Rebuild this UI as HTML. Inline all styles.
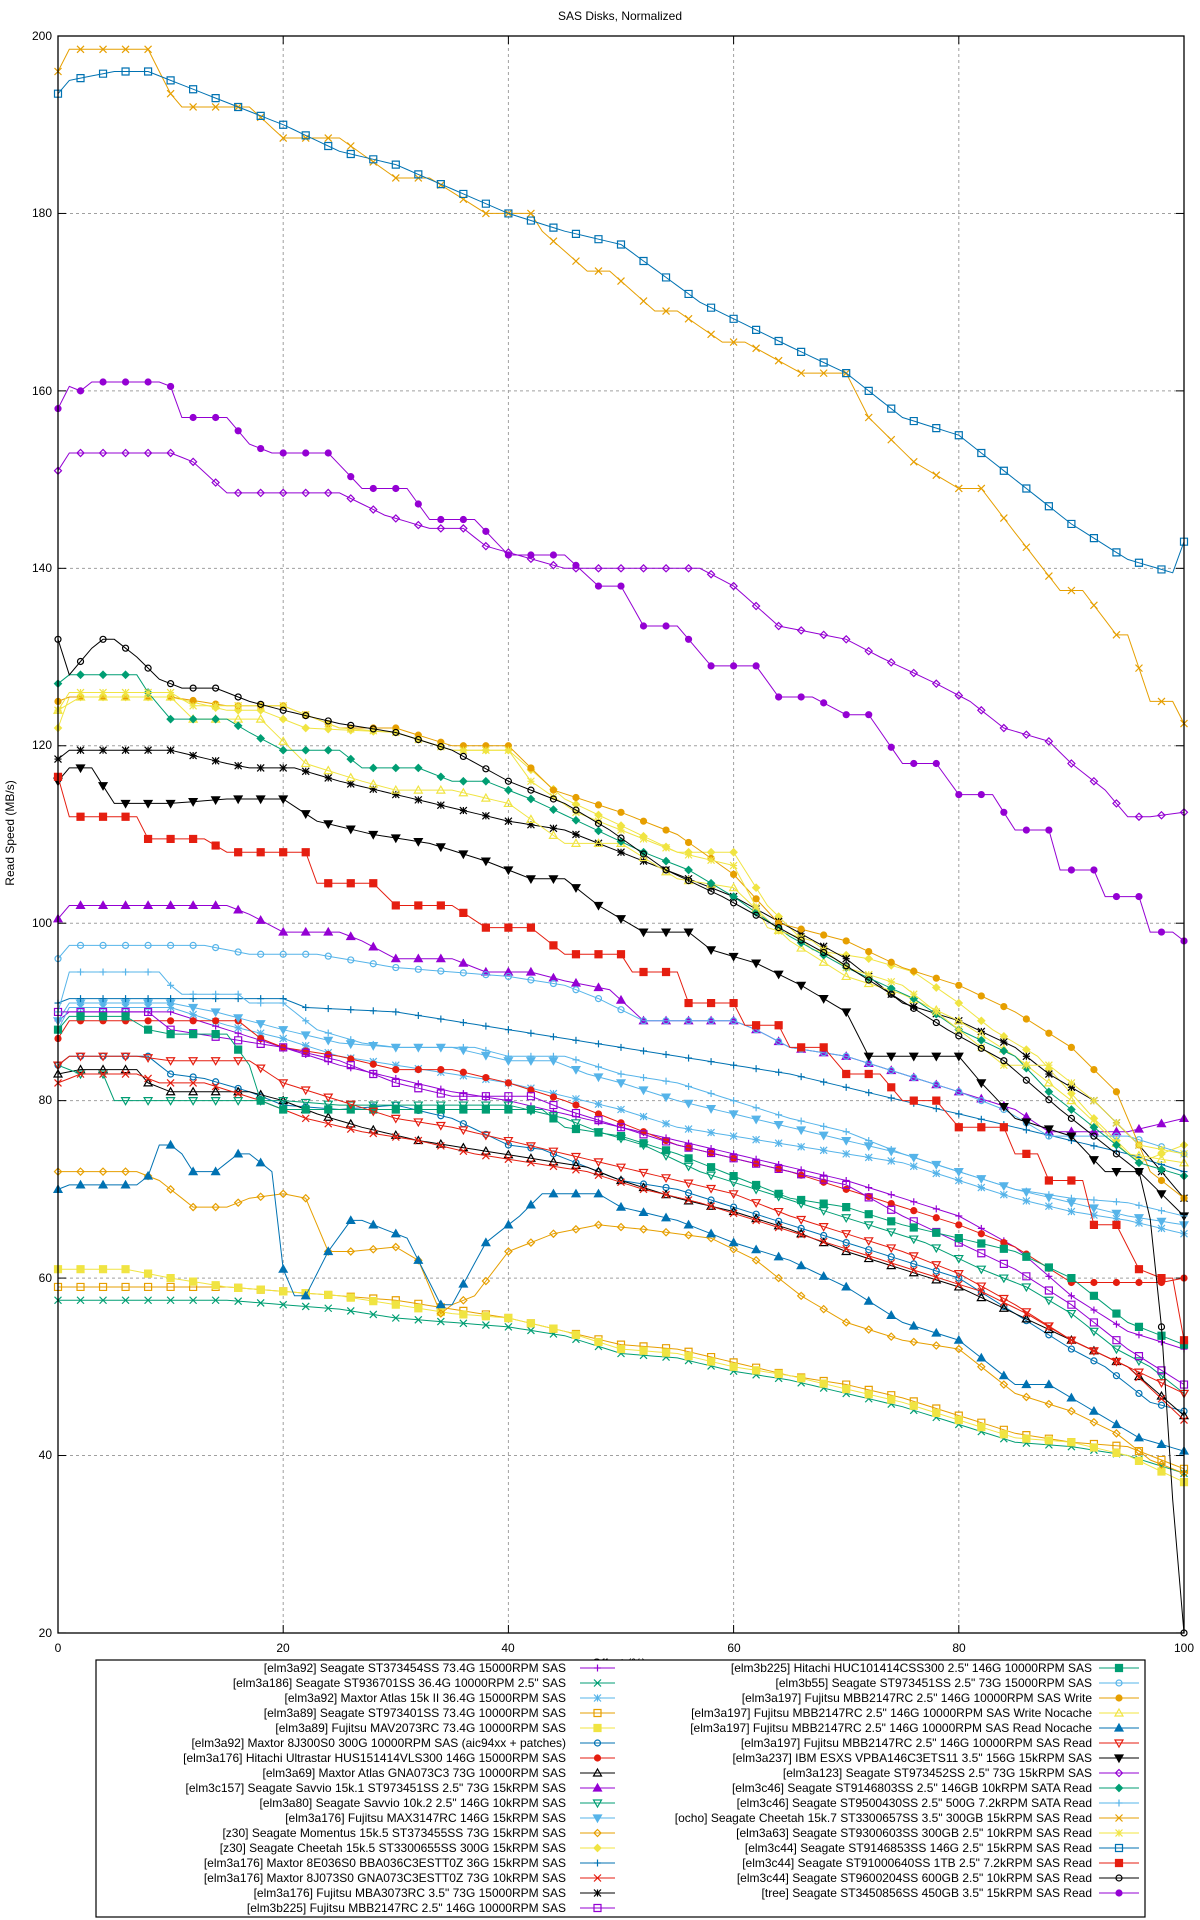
<!DOCTYPE html>
<html><head><meta charset="utf-8">
<style>
html,body{margin:0;padding:0;background:#fff;}
svg{display:block;font-family:"Liberation Sans",sans-serif;}
</style></head>
<body>
<svg id="c" width="1200" height="1920" viewBox="0 0 1200 1920" xmlns="http://www.w3.org/2000/svg">
<rect width="1200" height="1920" fill="#fff"/>
<text x="620" y="20" font-size="12" text-anchor="middle">SAS Disks, Normalized</text>
<g id="grid" stroke="#a0a0a0" stroke-width="1" stroke-dasharray="3,3"></g>
<g id="series"></g>
<rect x="58" y="36" width="1126" height="1597" fill="none" stroke="#000" stroke-width="1.3"/>
<g font-size="12" text-anchor="end">
<text x="52" y="40">200</text><text x="52" y="217">180</text><text x="52" y="395">160</text><text x="52" y="572">140</text><text x="52" y="749">120</text><text x="52" y="927">100</text><text x="52" y="1104">80</text><text x="52" y="1282">60</text><text x="52" y="1459">40</text><text x="52" y="1637">20</text>
</g>
<g font-size="12" text-anchor="middle">
<text x="58" y="1652">0</text><text x="283" y="1652">20</text><text x="508" y="1652">40</text><text x="734" y="1652">60</text><text x="959" y="1652">80</text><text x="1184" y="1652">100</text>
<text x="619" y="1667">Offset (%)</text>
</g>
<text transform="translate(14,833) rotate(-90)" font-size="12" text-anchor="middle">Read Speed (MB/s)</text>
<rect x="96" y="1660" width="1049" height="257" fill="#fff" stroke="#000" stroke-width="1.2"/>
<g id="legendtext" font-size="12" text-anchor="end">
<text x="566" y="1672">[elm3a92] Seagate ST373454SS 73.4G 15000RPM SAS</text>
<text x="566" y="1687">[elm3a186] Seagate ST936701SS 36.4G 10000RPM 2.5" SAS</text>
<text x="566" y="1702">[elm3a92] Maxtor Atlas 15k II 36.4G 15000RPM SAS</text>
<text x="566" y="1717">[elm3a89] Seagate ST973401SS 73.4G 10000RPM SAS</text>
<text x="566" y="1732">[elm3a89] Fujitsu MAV2073RC 73.4G 10000RPM SAS</text>
<text x="566" y="1747">[elm3a92] Maxtor 8J300S0 300G 10000RPM SAS (aic94xx + patches)</text>
<text x="566" y="1762">[elm3a176] Hitachi Ultrastar HUS151414VLS300 146G 15000RPM SAS</text>
<text x="566" y="1777">[elm3a69] Maxtor Atlas GNA073C3 73G 10000RPM SAS</text>
<text x="566" y="1792">[elm3c157] Seagate Savvio 15k.1 ST973451SS 2.5" 73G 15kRPM SAS</text>
<text x="566" y="1807">[elm3a80] Seagate Savvio 10k.2 2.5" 146G 10kRPM SAS</text>
<text x="566" y="1822">[elm3a176] Fujitsu MAX3147RC 146G 15kRPM SAS</text>
<text x="566" y="1837">[z30] Seagate Momentus 15k.5 ST373455SS 73G 15kRPM SAS</text>
<text x="566" y="1852">[z30] Seagate Cheetah 15k.5 ST3300655SS 300G 15kRPM SAS</text>
<text x="566" y="1867">[elm3a176] Maxtor 8E036S0 BBA036C3ESTT0Z 36G 15kRPM SAS</text>
<text x="566" y="1882">[elm3a176] Maxtor 8J073S0 GNA073C3ESTT0Z 73G 10kRPM SAS</text>
<text x="566" y="1897">[elm3a176] Fujitsu MBA3073RC 3.5" 73G 15000RPM SAS</text>
<text x="566" y="1912">[elm3b225] Fujitsu MBB2147RC 2.5" 146G 10000RPM SAS</text>
<text x="1092" y="1672">[elm3b225] Hitachi HUC101414CSS300 2.5" 146G 10000RPM SAS</text>
<text x="1092" y="1687">[elm3b55] Seagate ST973451SS 2.5" 73G 15000RPM SAS</text>
<text x="1092" y="1702">[elm3a197] Fujitsu MBB2147RC 2.5" 146G 10000RPM SAS Write</text>
<text x="1092" y="1717">[elm3a197] Fujitsu MBB2147RC 2.5" 146G 10000RPM SAS Write Nocache</text>
<text x="1092" y="1732">[elm3a197] Fujitsu MBB2147RC 2.5" 146G 10000RPM SAS Read Nocache</text>
<text x="1092" y="1747">[elm3a197] Fujitsu MBB2147RC 2.5" 146G 10000RPM SAS Read</text>
<text x="1092" y="1762">[elm3a237] IBM ESXS VPBA146C3ETS11 3.5" 156G 15kRPM SAS</text>
<text x="1092" y="1777">[elm3a123] Seagate ST973452SS 2.5" 73G 15kRPM SAS</text>
<text x="1092" y="1792">[elm3c46] Seagate ST9146803SS 2.5" 146GB 10kRPM SATA Read</text>
<text x="1092" y="1807">[elm3c46] Seagate ST9500430SS 2.5" 500G 7.2kRPM SATA Read</text>
<text x="1092" y="1822">[ocho] Seagate Cheetah 15k.7 ST3300657SS 3.5" 300GB 15kRPM SAS Read</text>
<text x="1092" y="1837">[elm3a63] Seagate ST9300603SS 300GB 2.5" 10kRPM SAS Read</text>
<text x="1092" y="1852">[elm3c44] Seagate ST9146853SS 146G 2.5" 15kRPM SAS Read</text>
<text x="1092" y="1867">[elm3c44] Seagate ST91000640SS 1TB 2.5" 7.2kRPM SAS Read</text>
<text x="1092" y="1882">[elm3c44] Seagate ST9600204SS 600GB 2.5" 10kRPM SAS Read</text>
<text x="1092" y="1897">[tree] Seagate ST3450856SS 450GB 3.5" 15kRPM SAS Read</text>
</g>
<g id="legendsym"></g>
</svg>
<script>
(function(){
var NS="http://www.w3.org/2000/svg";
function X(p){return 58+p*11.26;}
function Y(v){return 36+(200-v)*8.872;}
var grid=document.getElementById('grid');
function ln(g,x1,y1,x2,y2,attrs){var e=document.createElementNS(NS,'line');e.setAttribute('x1',x1);e.setAttribute('y1',y1);e.setAttribute('x2',x2);e.setAttribute('y2',y2);if(attrs)for(var k in attrs)e.setAttribute(k,attrs[k]);g.appendChild(e);return e;}
for(var v=40;v<=180;v+=20)ln(grid,58,Y(v),1184,Y(v));
for(var p=20;p<=80;p+=20)ln(grid,X(p),36,X(p),1633);
var tk=document.getElementById('series');
for(var v=20;v<=200;v+=20){ln(tk,58,Y(v),66,Y(v),{stroke:'#000'});ln(tk,1184,Y(v),1176,Y(v),{stroke:'#000'});}
for(var p=0;p<=100;p+=20){ln(tk,X(p),1633,X(p),1625,{stroke:'#000'});ln(tk,X(p),36,X(p),44,{stroke:'#000'});}
var C=['#9400d3','#009e73','#56b4e9','#e69f00','#f0e442','#0072b2','#e51e10','#000000'];
var D=[
[0,89,1,90,10,90,15,88,20,86,25,84,30,82.5,35,81,40,80,45,78.5,50,77,55,75.5,60,74,65,72.5,70,71,75,69,80,67,85,63.5,90,58,95,54,100,52],
[0,57.5,15,57.5,20,57,25,56.5,30,55.5,35,55,40,54.5,45,53.5,50,51.5,55,51,60,49.5,65,48.5,70,47,75,45.5,80,43.5,85,41.5,90,41,95,40,100,38],
[0,88,1,90.5,10,90.5,15,88.5,20,87,25,85,30,84,35,83,40,82,45,80.5,50,79,55,77,60,76,65,75,70,74,75,73,80,71,85,69,90,67.5,95,66.5,100,65],
[0,59,15,59,20,58.5,25,58,30,57.5,35,56.5,40,55.5,45,54,50,52.5,55,52,60,50.5,65,49,70,48,75,46.5,80,44.5,85,42.5,90,41.5,95,41,100,38.5],
[0,61,6,61,10,60,15,59,20,58.5,25,58,30,57,35,56,40,55.5,45,54,50,52,55,51.5,60,50,65,49,70,47.5,75,46,80,44,85,42,90,41.5,95,40,100,37],
[0,84,1,85,8,85,10,83,13,82.5,17,81,20,79.5,25,79,30,79.5,35,78,40,75,43,74.5,46,73,50,71,55,70,60,68,65,66,70,64,75,62,80,60,85,56,90,52,93,50,97,46,100,45],
[0,87,1,89,16,89,18,87,20,86,25,85,30,83.5,35,83.5,40,82,45,80,48,78.5,52,76.5,55,75,60,73.5,65,72,70,70,75,68,80,66,85,63.5,90,59.5,98,59.5,100,60],
[0,83,2,83.5,7,83.5,8,82,10,81,17,81,20,80,23,78.5,27,77,32,75.5,37,74.5,42,73.5,47,72.5,50,71,55,69,60,67.5,65,65.5,70,63,75,61,80,59,85,56,90,53,95,50,100,44.5],
[0,100.5,1,102,15,102,17,101,20,99,25,99,27,98,30,96,35,96,38,94.5,42,94.5,45,93.5,49,92.5,52,89,60,89,62,88,65,86,70,85,75,83,80,81,85,79,88,76.5,95,76.5,100,78],
[0,84,2,83,4,83,5,80,20,80,25,79.5,40,79.5,45,78,48,76.5,52,75,57,72,62,70,67,68,72,66,77,64,82,61,86,59,90,56,94,52,97,50,100,47],
[0,89,1,91,10,91,14,90,20,88,25,86.5,30,86,35,86,40,84.5,44,84.5,47,83,50,82,55,80,60,78.5,65,77,70,75.5,75,74,80,72,85,70,90,68.5,95,67,100,66],
[0,72,7,72,9,71,12,68,15,68,17,69,20,69.5,22,69,24,63,26,63,30,63.5,32,62,34,56,35,57,37,58,40,63,44,65,48,66,52,65.5,58,64.5,62,62,66,58,70,55,75,53,80,52,85,47,90,45,94,42.5,97,39.5,100,38],
[0,122,1,125.5,10,125.5,15,124,18,124,22,122,30,121.5,35,119.5,40,119.5,45,114,50,111,55,108,60,108,63,102,67,97,72,96,76,94.5,80,91,83,88,87,85,92,78,96,73,100,75],
[0,91,1,91.5,20,91.5,22,90.5,30,90,35,89,40,88,45,87,50,86,55,85,60,84,65,83,70,81.5,75,80,80,78.5,85,77,90,75.5,95,74,100,72],
[0,82,2,83,7,83,9,82,13,82,18,80,22,78,27,76.5,32,75.5,37,74,42,73,47,72,52,70,57,68.5,62,66.5,67,64.5,72,62.5,77,60.5,82,58.5,86,56,90,53,95,50,100,44],
[0,118.5,1,119.5,10,119.5,15,118,17,117.5,19,117.5,21,117.5,25,116,30,114.5,35,113,40,111.5,45,110.5,50,108,55,105.5,60,103,65,99.5,70,96,75,91,80,89,85,86,88,83,92,80,96,75,100,69],
[0,90,8,90,10,88,15,87,20,86,25,84.5,30,82,35,80.5,42,80.5,45,79,50,77,55,75,60,73.5,65,72,70,70.5,75,67,80,64,85,61,90,57,95,52,100,48],
[0,88,1,89.5,6,89.5,8,88,10,87.5,15,87.5,17,84,18,80,20,79,43,79,45,77,50,76,55,74,60,71.5,65,69,70,68,75,66,80,64.5,85,63,90,60,95,55,100,52.5],
[0,96,1,97.5,13,97.5,17,96.5,23,96.5,30,95,35,94.5,40,94,45,93,48,91.5,52,89,60,89,62,88,65,86,70,85,75,83,80,81,84,79,88,76,95,76,100,74],
[0,125,1,125.5,10,125.5,15,124.5,20,124.5,25,122,30,122,35,120,40,120,44,115,50,112.5,55,110,60,105.5,64,100,70,98,75,95,80,93,85,90,90,86,94,81,97,72,100,69],
[0,124,2,125.5,10,125.5,12,123,18,123,22,118,27,116,30,115,35,115,40,113.5,45,109,50,109,55,105,60,104,65,98,70,94,75,92,80,89,85,85,90,80,95,74,100,73],
[0,70,1,70.5,7,70.5,8,71.5,9,75,10,75,11,74,12,72,14,72,16,74,17,74,19,72,20,61,21,58,22,58,24,63,26,66.5,27,66.5,29,65.5,31,64.5,34,57,35,57,38,64,41,67,43,69.5,48,69.5,50,68,55,66.5,60,64,65,62,70,59,75,55,80,53,85,48,88,48,92,45,96,42,100,40.5],
[0,84,1,85,7,85,10,84.5,17,84.5,20,82,25,80,30,78,35,77,40,75.5,45,74,50,72.5,55,71,60,69.5,65,67,70,65,75,63,80,60.5,85,57,90,53,95,50,100,47],
[0,116,1,117.5,3,117.5,5,113.5,10,113.5,15,114,20,114,23,111.5,28,110,33,109,38,107,42,105,45,105,48,102,52,99,56,99,58,97,62,95.5,66,93,70,90,72,85,80,85,82,82,85,78,90,76,93,72,96,72,100,67],
[0,151,1,153,10,153,12,152,15,148.5,25,148.5,29,146,33,144.5,36,144.5,38,142.5,45,140,57,140,60,138,64,133.5,70,132,73,130,78,127,81,125,84,122,88,120.5,90,118,93,115,95,112,97,112,100,112.5],
[0,127,1,128,7,128,8,126,10,123,15,123,17,121.5,20,119.5,25,119.5,27,117.5,32,117.5,35,116,38,116,42,114,47,111,52,108,56,106,60,103,65,98.5,70,95,76,91.5,80,88,85,85,88,81,92,77,96,73,100,71.5],
[0,90,1,94.5,9,94.5,10,93,11,92,16,92,17,91,20,91,23,88,27,86.5,30,86,37,86,40,85,45,85,50,83,55,82,60,80,65,78,70,76.5,75,74,80,72,85,70,90,69,95,68.5,100,67],
[0,196,1,198.5,8,198.5,10,193.5,11,192,17,192,20,188.5,25,188.5,30,184,33,184,38,180,42,180,43,178,47,173.5,49,173.5,53,169,55,169,59,165.5,61,165.5,66,162,70,162,72,157,76,152,80,149,82,149,85,144,89,137.5,91,137.5,94,132.5,95,132.5,97,125,99,125,100,122.5],
[0,124,1,126,10,126,12,124.5,20,124.5,25,122,30,121.5,35,119.5,40,119.5,42,116,46,112.5,50,110.5,55,108,60,106.5,63,99.5,67,98,70,95,75,93,80,88,84,84,88,84,92,80,96,75,100,74],
[0,193.5,1,195,5,196,8,196,10,195,13,193.5,20,190,25,187,30,185.5,40,180,45,178,50,176.5,57,170,65,165,70,162,75,157,80,155,85,150,90,145,95,141,99,139.5,100,143],
[0,116.5,1,112,7,112,8,109.5,13,109.5,15,108,22,108,23,104.5,28,104.5,30,102,35,102,38,99.5,42,99.5,45,96.5,50,96.5,51,94.5,55,94.5,56,91,60,91,61,88.5,64,88.5,65,86,68,86,70,83,73,83,75,80,78,80,80,77,84,77,85,74,87,74,88,71,91,71,92,66,94,66,96,61,98,60,99,60,100,53],
[0,132,1,128,3,131,4,132,5,132,7,130,9,127.5,11,126.5,14,126.5,17,125,20,124,25,122.5,30,121.5,35,119.5,40,116,45,113.5,49,110.5,54,106,59,103,64,99.5,69,96,74,92,79,88,84,84.5,89,79,93,75,96,72,97.5,64,98.5,45,99.5,25,100,20],
[0,158,1,160.5,2,160,3,161,9,161,10,160.5,11,157,15,157,17,154,19,153,24,153,27,149,31,149,33,145.5,37,145.5,40,141.5,45,141.5,48,138,50,138,52,133.5,55,133.5,58,129,62,129,64,125.5,67,125.5,70,123.5,72,123.5,75,118,78,118,80,114.5,83,114.5,85,110.5,88,110.5,89,106,92,106,93,103,96,103,97,99,99,99,100,98]
];
function interp(d,p){for(var i=0;i<d.length-2;i+=2){if(p>=d[i]&&p<=d[i+2]){var t=(d[i+2]==d[i])?0:(p-d[i])/(d[i+2]-d[i]);return d[i+1]+t*(d[i+3]-d[i+1]);}}return d[d.length-1];}
function marker(g,type,x,y,col){
 var s=3.5,e;
 function poly(pts,fill){e=document.createElementNS(NS,'polygon');e.setAttribute('points',pts);e.setAttribute('fill',fill?col:'none');e.setAttribute('stroke',col);e.setAttribute('stroke-width','1.2');g.appendChild(e);}
 var sw={stroke:col,'stroke-width':1.2};
 switch(type){
 case 1: ln(g,x-s,y,x+s,y,sw);ln(g,x,y-s,x,y+s,sw);break;
 case 2: ln(g,x-s,y-s,x+s,y+s,sw);ln(g,x-s,y+s,x+s,y-s,sw);break;
 case 3: ln(g,x-s,y,x+s,y,sw);ln(g,x,y-s,x,y+s,sw);ln(g,x-s,y-s,x+s,y+s,sw);ln(g,x-s,y+s,x+s,y-s,sw);break;
 case 4: case 5: poly((x-s)+','+(y-s)+' '+(x+s)+','+(y-s)+' '+(x+s)+','+(y+s)+' '+(x-s)+','+(y+s),type==5);break;
 case 6: case 7: e=document.createElementNS(NS,'circle');e.setAttribute('cx',x);e.setAttribute('cy',y);e.setAttribute('r',s-0.5);e.setAttribute('fill',type==7?col:'none');e.setAttribute('stroke',col);e.setAttribute('stroke-width','1.2');g.appendChild(e);break;
 case 8: case 9: poly(x+','+(y-s-0.5)+' '+(x+s+0.5)+','+(y+s-0.5)+' '+(x-s-0.5)+','+(y+s-0.5),type==9);break;
 case 10: case 11: poly(x+','+(y+s+0.5)+' '+(x+s+0.5)+','+(y-s+0.5)+' '+(x-s-0.5)+','+(y-s+0.5),type==11);break;
 case 12: case 13: poly(x+','+(y-s)+' '+(x+s)+','+y+' '+x+','+(y+s)+' '+(x-s)+','+y,type==13);break;
 }
}
var sg=document.getElementById('series');
var lg=document.getElementById('legendsym');
for(var i=0;i<D.length;i++){
 var col=C[i%8],type=(i%13)+1,d=D[i];
 var pts=[];
 for(var p=0;p<=100;p+=1){pts.push(X(p).toFixed(1)+','+Y(interp(d,p)).toFixed(1));}
 var pl=document.createElementNS(NS,'polyline');pl.setAttribute('points',pts.join(' '));pl.setAttribute('fill','none');pl.setAttribute('stroke',col);pl.setAttribute('stroke-width','1');sg.appendChild(pl);
 for(var p=0;p<=100;p+=2){marker(sg,type,X(p),Y(interp(d,p)),col);}
 var row=i<17?i:i-17;
 var ly=1668+row*15;
 var lx1=i<17?580:1099,lx2=i<17?615:1139;
 ln(lg,lx1,ly,lx2,ly,{stroke:col,'stroke-width':1});
 marker(lg,type,(lx1+lx2)/2,ly,col);
}
})();
</script>
</body></html>
